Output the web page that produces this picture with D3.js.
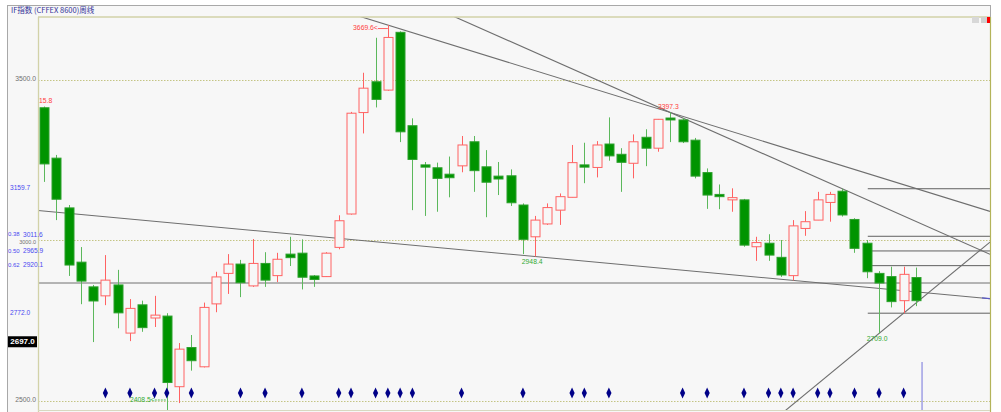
<!DOCTYPE html>
<html><head><meta charset="utf-8">
<script src="https://cdn.jsdelivr.net/npm/d3@7"></script>
<style>body{margin:0;background:#fff;} svg{display:block}</style>
</head><body><svg id="c" width="1001" height="412"></svg>
<script>
// ---- data ----
const weeks = d3.range(72);
const open  = [3412,3255,3100,2931,2854,2826,2860,2710,2798,2757,2763,2543,2665,2605,2801,2896,2925,2857,2927,2889,2956,2959,2888,2886,2977,3081,3397,3493,3467,3647,3356,3234,3225,3205,3231,3306,3228,3199,3200,3109,3010,3050,3093,3133,3234,3226,3299,3267,3239,3320,3286,3380,3374,3311,3210,3142,3125,3125,2979,2990,2946,2889,3036,3062,3117,3152,3064,2990,2896,2886,2811,2883];
const high  = [3415.8,3265,3109,2978,2860,2953,2907,2816,2811,2826,2772,2679,2704,2805,2901,2956,2938,3003,2962,2960,3010,3002,2891,2962,3077,3399,3521,3630,3669.6,3650,3379,3243,3241,3260,3324,3324,3280,3243,3220,3114,3075,3114,3145,3296,3303,3308,3382,3286,3329,3345,3377,3397.3,3380,3318,3223,3173,3161,3128,3010,3018,3000,3062,3090,3150,3150,3159.7,3068,3000,2903,2917,2917,2914];
const low   = [3181,3062,2888,2800,2682,2797,2725,2685,2714,2729,2408.5,2492,2593,2603,2775,2832,2822,2854,2854,2869,2919,2846,2854,2885,2971,3079,3332,3413,3465,3305,3093,3075,3088,3133,3211,3150,3071,3140,3106,2956,2948.4,3047,3047,3133,3177,3195,3247,3150,3192,3230,3275,3305,3302,3192,3097,3096,3088,2979,2935,2935,2885,2874,3013,3062,3057,3073,2960,2881,2709,2790,2772,2794];
const close = [3237,3127,2922,2872,2810,2875,2773,2787,2727,2766,2556,2660,2624,2790,2885,2925,2867,2927,2875,2940,2945,2884,2877,2959,3060,3395,3473,3438,3631,3337,3251,3227,3192,3194,3296,3216,3180,3190,3116,3002,3062,3101,3135,3241,3227,3296,3262,3242,3306,3286,3376,3374,3306,3199,3140,3135,3132,2984,2992,2953,2891,3044,3057,3125,3142,3078,2974,2901,2866,2808,2893,2811];
const diamondWeeks = [5,7,9,10,12,16,18,21,24,25,27,28,29,30,34,39,43,44,46,52,54,57,59,60,61,63,64,66,68,70];
const gridValues = [3500, 3000, 2500];
const gridLabels = ["3500.0", "3000.0", "2500.0"];
const fibValues = [3159.7, 3011.6, 2965.9, 2920.1, 2772.0];
const fibRatios = ["", "0.38", "0.50", "0.62", ""];
const fibLabels = ["3159.7", "3011.6", "2965.9", "2920.1", "2772.0"];
const fibStartWeek = 67;
const levelValue = 2866;
const trendLines = [
  [[40, 2948.4], [61, 2874]],
  [[28, 3669.6], [51, 3397.3]],
  [[51, 3397.3], [65, 3159.7]],
  [[68, 2709], [70, 2772]]
];
const currentPrice = 2697.0;
const cursorWeek = 71.5;
const title = "IF指数  (CFFEX 8600)周线";

// ---- layout ----
const L = 38, T = 17, R = 990, B = 410;
const svg = d3.select("#c");
const x = d3.scaleLinear().domain([0, 71]).range([44, 915.9]);
const y = d3.scaleLinear().domain([2500, 3500]).range([400.5, 79.5]);
const numFont = "'Liberation Sans', Arial, sans-serif";

svg.append("rect").attr("width", 1001).attr("height", 412).attr("fill", "#fff");
svg.append("rect").attr("x", 7.5).attr("y", 5.5).attr("width", 983).attr("height", 410)
  .attr("fill", "#f7f7f7").attr("stroke", "#a8a8a8");
svg.append("text").attr("x", 11).attr("y", 13).attr("font-size", 7.5)
  .attr("font-family", "'Noto Sans CJK SC', sans-serif").attr("fill", "#333399").text(title);

svg.append("defs").append("clipPath").attr("id", "plot")
  .append("rect").attr("x", L).attr("y", T).attr("width", R - L).attr("height", B - T);

svg.append("rect").attr("x", L).attr("y", T).attr("width", R - L).attr("height", B - T)
  .attr("fill", "#f7f7f7");

const g = svg.append("g").attr("clip-path", "url(#plot)");

// grid
g.selectAll("line.grid").data(gridValues).enter().append("line")
  .attr("x1", L).attr("x2", R).attr("y1", d => Math.round(y(d)) + 0.5).attr("y2", d => Math.round(y(d)) + 0.5)
  .attr("stroke", "#c4c484").attr("stroke-dasharray", "1.5,1.5");

// horizontal level
g.append("line").attr("x1", L).attr("x2", R)
  .attr("y1", y(levelValue)).attr("y2", y(levelValue)).attr("stroke", "#707070").attr("stroke-width", 1);

// fib lines
g.selectAll("line.fib").data(fibValues).enter().append("line")
  .attr("x1", x(fibStartWeek) + 1).attr("x2", R)
  .attr("y1", d => y(d)).attr("y2", d => y(d)).attr("stroke", "#606060").attr("stroke-width", 1);

// trend lines extended
const xMinW = x.invert(L), xMaxW = x.invert(R);
trendLines.forEach(([[w1, v1], [w2, v2]]) => {
  const s = (v2 - v1) / (w2 - w1);
  const va = v1 + s * (xMinW - w1), vb = v1 + s * (xMaxW - w1);
  g.append("line").attr("x1", L).attr("y1", y(va)).attr("x2", R).attr("y2", y(vb))
    .attr("stroke", "#6e6e6e").attr("stroke-width", 1.1);
});
// small blue tail on first line
{
  const [[w1, v1], [w2, v2]] = trendLines[0];
  const s = (v2 - v1) / (w2 - w1);
  const wa = x.invert(R - 8);
  g.append("line").attr("x1", R - 8).attr("y1", y(v1 + s * (wa - w1))).attr("x2", R).attr("y2", y(v1 + s * (xMaxW - w1)))
    .attr("stroke", "#5a5ac8").attr("stroke-width", 1.3);
}

// candles
const bw = 9;
const up = "#ff6262", dn = "#009400";
const cg = g.selectAll("g.c").data(weeks).enter().append("g");
cg.each(function (i) {
  const el = d3.select(this);
  const cx = Math.round(x(i)) + 0.5;
  const isUp = close[i] >= open[i];
  const top = y(Math.max(open[i], close[i])), bot = y(Math.min(open[i], close[i]));
  el.append("line").attr("x1", cx).attr("x2", cx).attr("y1", y(high[i])).attr("y2", y(low[i]))
    .attr("stroke", isUp ? up : "#5cb85c").attr("stroke-width", 1);
  el.append("rect").attr("x", cx - bw / 2).attr("y", top).attr("width", bw).attr("height", Math.max(1.5, bot - top))
    .attr("fill", isUp ? "#f7f7f7" : dn).attr("stroke", isUp ? up : "#2ca02c").attr("stroke-width", 1);
});

// diamonds
g.selectAll("path.dm").data(diamondWeeks).enter().append("path")
  .attr("d", d => { const cx = x(d), cy = 393; return `M${cx},${cy - 5.5}L${cx + 2.6},${cy}L${cx},${cy + 5.5}L${cx - 2.6},${cy}Z`; })
  .attr("fill", "#000088");

// cursor line
g.append("line").attr("x1", x(cursorWeek)).attr("x2", x(cursorWeek)).attr("y1", 362).attr("y2", B)
  .attr("stroke", "#8a8ae0").attr("stroke-width", 1.2);

// extreme labels
const lab = (txt, xx, yy, col, anchor) => g.append("text").attr("x", xx).attr("y", yy)
  .attr("font-size", 6.8).attr("font-family", numFont).attr("fill", col)
  .attr("text-anchor", anchor).attr("dominant-baseline", "middle").text(txt);
lab("15.8", L + 1, y(high[0]) - 5, "#ff4040", "start");
lab("3669.6<", x(28) - 10, y(3669.6) + 3.5, "#ff4040", "end");
g.append("line").attr("x1", x(28) - 10).attr("x2", x(28)).attr("y1", y(3669.6) + 3.5).attr("y2", y(3669.6) + 3.5).attr("stroke", "#ff6060");
lab("3397.3", x(51) - 2, y(3397.3) - 5, "#ff4040", "middle");
lab("2948.4", x(40) - 3, y(2948.4) + 6, "#33aa33", "middle");
lab("2408.5<", x(10) - 12, B - 10, "#33aa33", "end");
g.append("line").attr("x1", x(10) - 12).attr("x2", x(10)).attr("y1", B - 10).attr("y2", B - 10).attr("stroke", "#55bb55").attr("stroke-dasharray", "2,1");
lab("2709.0", x(68) - 2, y(2709) + 6, "#33aa33", "middle");

// plot border
svg.append("line").attr("x1", L).attr("x2", R).attr("y1", T).attr("y2", T).attr("stroke", "#d2d2a8").attr("stroke-width", 1.6);
svg.append("line").attr("x1", L + 0.5).attr("x2", L + 0.5).attr("y1", T).attr("y2", B + 2).attr("stroke", "#d2d2a8").attr("stroke-width", 1.3);
svg.append("line").attr("x1", R + 0.5).attr("x2", R + 0.5).attr("y1", T).attr("y2", B + 2).attr("stroke", "#b4b45a").attr("stroke-width", 1.2);
svg.append("line").attr("x1", L).attr("x2", R).attr("y1", B + 0.5).attr("y2", B + 0.5).attr("stroke", "#d8d8c0");

// corner icons
svg.append("rect").attr("x", 972).attr("y", 17).attr("width", 7).attr("height", 6).attr("fill", "#d8d8d8");
svg.append("rect").attr("x", 981).attr("y", 17).attr("width", 6).attr("height", 6).attr("fill", "#cfcfcf");
svg.append("rect").attr("x", 987).attr("y", 17).attr("width", 3).attr("height", 6).attr("fill", "#ff0000");

// axis labels (the 3000.0 one sits just under the 0.38 fib label, as in the reference)
svg.selectAll("text.ax").data(gridValues).enter().append("text")
  .attr("x", 36).attr("y", d => y(d) + (d === 3000 ? 3 : 0)).attr("text-anchor", "end").attr("dominant-baseline", "middle")
  .attr("font-size", d => d === 3000 ? 5.5 : 6.8).attr("font-family", numFont).attr("fill", "#707070")
  .text((d, i) => gridLabels[i]);

// fib labels
fibValues.forEach((v, i) => {
  const yy = y(v) - (i === 1 ? 1.5 : 0);
  const t = svg.append("text").attr("y", yy).attr("dominant-baseline", "middle")
    .attr("font-size", 6.6).attr("font-family", numFont).attr("fill", "#4a4af0");
  if (fibRatios[i]) {
    svg.append("text").attr("x", 8).attr("y", yy).attr("dominant-baseline", "middle")
      .attr("font-size", 6).attr("font-family", numFont).attr("fill", "#4a4af0").text(fibRatios[i]);
    t.attr("x", 23).text(fibLabels[i]);
  } else {
    t.attr("x", 10).text(fibLabels[i]);
  }
});

// current price box
svg.append("rect").attr("x", 8).attr("y", y(currentPrice) - 1).attr("width", 29).attr("height", 11).attr("fill", "#000");
svg.append("text").attr("x", 22.5).attr("y", y(currentPrice) + 4.7).attr("text-anchor", "middle").attr("dominant-baseline", "middle")
  .attr("font-size", 8).attr("font-weight", "bold").attr("font-family", numFont).attr("fill", "#fff").text(currentPrice.toFixed(1));
</script></body></html>
